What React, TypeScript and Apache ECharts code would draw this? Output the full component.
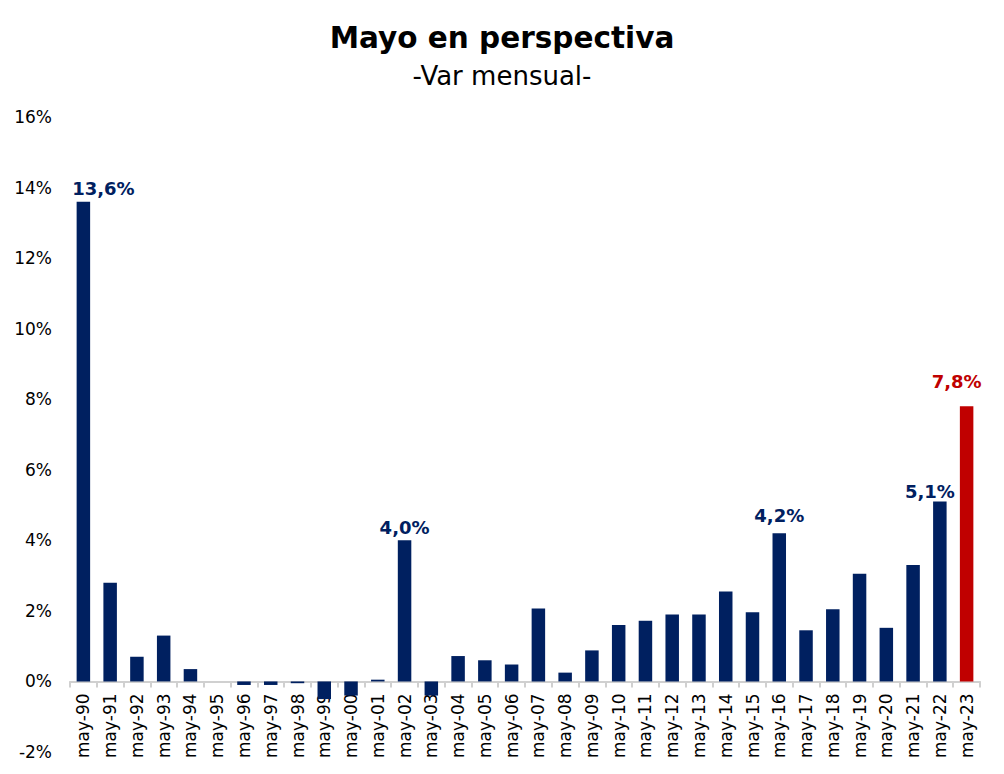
import React, { useEffect, useRef } from "react";
import * as echarts from "echarts";

const categories = [
  "may-90", "may-91", "may-92", "may-93", "may-94", "may-95", "may-96", "may-97", "may-98", "may-99",
  "may-00", "may-01", "may-02", "may-03", "may-04", "may-05", "may-06", "may-07", "may-08", "may-09",
  "may-10", "may-11", "may-12", "may-13", "may-14", "may-15", "may-16", "may-17", "may-18", "may-19",
  "may-20", "may-21", "may-22", "may-23",
];

const monthlyChange = [
  13.6, 2.8, 0.7, 1.3, 0.35, 0, -0.1, -0.1, -0.05, -0.5,
  -0.4, 0.05, 4.0, -0.4, 0.72, 0.6, 0.48, 2.07, 0.25, 0.88,
  1.6, 1.72, 1.9, 1.9, 2.55, 1.96, 4.2, 1.45, 2.05, 3.05,
  1.52, 3.3, 5.1, 7.8,
];

// Bars that carry a value label: [index, x offset, distance above the bar]
const labelled: [number, number, number][] = [
  [0, 20, 4],
  [12, 0, 4],
  [26, 0, 9],
  [32, -10, 1],
  [33, -10, 16],
];

const Y_MIN = -2;
const Y_MAX = 16;

const NAVY = "#002060";
const RED = "#C00000";
const FONT = "DejaVu Sans";

const GRID_TOP = 117;
const GRID_BOTTOM = 22;
const HEIGHT = 774;

const fmt = (v: number) => v.toFixed(1).replace(".", ",") + "%";

export default function App() {
  const ref = useRef<HTMLDivElement>(null);

  useEffect(() => {
    if (!ref.current) return;
    const chart = echarts.init(ref.current, undefined, { renderer: "svg" });
    const last = monthlyChange.length - 1;

    // lift the category axis from the bottom edge of the grid up to the zero line
    const plotH = HEIGHT - GRID_TOP - GRID_BOTTOM;
    const zeroOffset = -((0 - Y_MIN) / (Y_MAX - Y_MIN)) * plotH;

    const data = monthlyChange.map((v, i) => {
      const color = i === last ? RED : NAVY;
      const lab = labelled.find((l) => l[0] === i);
      return {
        value: v,
        itemStyle: { color },
        label: lab
          ? {
              show: true,
              position: "top",
              distance: lab[2],
              offset: [lab[1], 0],
              formatter: () => fmt(v),
              color,
              fontWeight: "bold",
              fontSize: 18,
              fontFamily: FONT,
            }
          : { show: false },
      };
    });

    chart.setOption({
      animation: false,
      backgroundColor: "#ffffff",
      title: {
        text: "Mayo en perspectiva",
        subtext: "-Var mensual-",
        left: "center",
        top: 18,
        itemGap: 10,
        textStyle: { fontFamily: FONT, fontSize: 29.5, fontWeight: "bold", color: "#000" },
        subtextStyle: { fontFamily: FONT, fontSize: 26, color: "#000" },
      },
      grid: {
        left: 70,
        right: 24,
        top: GRID_TOP,
        bottom: GRID_BOTTOM,
        containLabel: false,
        outerBoundsMode: "none",
      },
      xAxis: {
        type: "category",
        data: categories,
        position: "bottom",
        offset: zeroOffset,
        axisLine: { onZero: false, lineStyle: { color: "#d0d0d0", width: 2 } },
        axisTick: { show: true, length: 6, lineStyle: { color: "#d0d0d0", width: 2 } },
        axisLabel: {
          rotate: 90,
          interval: 0,
          margin: 12,
          fontFamily: FONT,
          fontSize: 17,
          color: "#000",
        },
      },
      yAxis: {
        type: "value",
        min: Y_MIN,
        max: Y_MAX,
        interval: 2,
        axisLine: { show: false },
        axisTick: { show: false },
        splitLine: { show: false },
        axisLabel: {
          margin: 18,
          formatter: (v: number) => v + "%",
          fontFamily: FONT,
          fontSize: 17,
          color: "#000",
        },
      },
      series: [
        {
          type: "bar",
          data,
          barWidth: 13.5,
          z: 5,
        },
      ],
    });

    return () => chart.dispose();
  }, []);

  return (
    <div
      ref={ref}
      style={{ position: "fixed", left: 0, top: 0, width: 1004, height: HEIGHT }}
    />
  );
}
